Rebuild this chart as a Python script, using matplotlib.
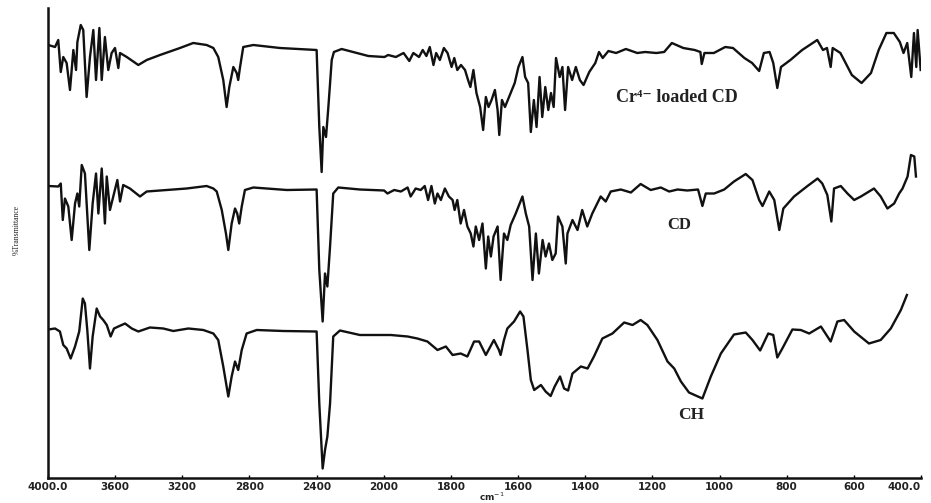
import numpy as np
import matplotlib.pyplot as plt

# FTIR spectra, wavenumber (cm-1) vs transmittance (stacked, arbitrary offset)
cr_wn = [3998, 3958, 3939, 3924, 3909, 3889, 3869, 3849, 3833, 3825, 3805, 3790, 3770, 3750,
         3730, 3714, 3694, 3680, 3661, 3641, 3621, 3601, 3581, 3571, 3531, 3462, 3412, 3333,
         3214, 3135, 3055, 3015, 2986, 2956, 2936, 2920, 2896, 2876, 2867, 2856, 2837, 2777,
         2618, 2400, 2384, 2370, 2360, 2344, 2330, 2310, 2297, 2251, 2183, 2092, 1998, 1987,
         1964, 1941, 1924, 1912, 1895, 1884, 1873, 1863, 1852, 1844, 1833, 1821, 1810, 1798,
         1790, 1781, 1770, 1758, 1749, 1742, 1733, 1724, 1713, 1704, 1696, 1688, 1679, 1669,
         1661, 1656, 1648, 1639, 1627, 1610, 1599, 1587, 1579, 1570, 1562, 1553, 1545, 1536,
         1528, 1519, 1510, 1502, 1494, 1487, 1476, 1468, 1460, 1451, 1439, 1428, 1416, 1405,
         1388, 1370, 1359, 1348, 1331, 1308, 1279, 1245, 1222, 1188, 1165, 1142, 1108, 1074,
         1057, 1053, 1045, 1017, 983, 960, 926, 903, 882, 868, 851, 840, 828, 817, 789, 754,
         709, 692, 680, 669, 663, 640, 606, 577, 549, 526, 503, 481, 463, 452, 441, 429, 421,
         414, 410, 401]
cr_t = [86.6, 86.2, 87.6, 81.2, 84.2, 83.0, 77.6, 85.6, 81.6, 87.2, 90.6, 89.6, 76.2, 84.2,
        89.6, 79.6, 90.0, 79.6, 88.2, 81.6, 85.0, 86.0, 82.0, 85.0, 84.2, 82.6, 83.6, 84.6,
        86.0, 87.0, 86.6, 86.0, 84.2, 79.6, 74.2, 78.2, 82.2, 81.0, 79.6, 82.2, 86.2, 86.6,
        86.0, 85.6, 70.2, 61.2, 70.2, 68.2, 74.2, 83.6, 85.2, 85.8, 85.2, 84.4, 84.2, 84.6,
        84.2, 85.0, 83.4, 85.0, 84.2, 85.6, 84.4, 86.2, 82.6, 85.0, 83.6, 86.0, 85.0, 82.2,
        84.0, 81.6, 82.6, 81.6, 79.6, 78.2, 81.6, 77.0, 74.2, 69.6, 76.2, 74.2, 75.6, 77.6,
        73.6, 68.6, 75.6, 74.2, 76.2, 79.0, 82.2, 84.2, 80.2, 79.0, 69.2, 75.6, 70.2, 80.2,
        72.2, 78.2, 73.6, 77.0, 74.2, 84.0, 80.2, 82.2, 73.6, 82.2, 79.6, 82.2, 79.6, 78.6,
        81.2, 83.0, 85.2, 84.0, 85.4, 85.0, 85.8, 85.0, 85.2, 85.0, 85.2, 87.0, 86.0, 85.6,
        85.2, 82.8, 85.0, 85.0, 86.2, 86.0, 84.0, 83.0, 81.4, 85.0, 85.2, 83.0, 78.0, 82.2,
        83.6, 85.6, 87.6, 85.6, 86.0, 82.2, 86.0, 85.0, 80.6, 79.0, 81.0, 85.6, 89.0, 89.0,
        87.2, 85.0, 87.0, 80.2, 89.0, 82.2, 89.6, 81.6]

cd_wn = [3998, 3939, 3924, 3912, 3899, 3879, 3859, 3839, 3825, 3814, 3799, 3780, 3754, 3734,
         3714, 3700, 3680, 3661, 3650, 3631, 3611, 3587, 3571, 3552, 3512, 3452, 3412, 3293,
         3174, 3055, 3015, 2995, 2965, 2940, 2926, 2906, 2886, 2873, 2861, 2846, 2827, 2777,
         2578, 2400, 2384, 2364, 2350, 2336, 2320, 2301, 2271, 2142, 1999, 1989, 1969, 1949,
         1929, 1920, 1905, 1890, 1878, 1868, 1858, 1848, 1840, 1830, 1818, 1806, 1795, 1789,
         1781, 1771, 1761, 1751, 1741, 1733, 1726, 1716, 1706, 1696, 1689, 1681, 1673, 1661,
         1652, 1642, 1632, 1622, 1607, 1587, 1577, 1567, 1557, 1547, 1538, 1527, 1518, 1508,
         1498, 1488, 1481, 1468, 1458, 1453, 1438, 1423, 1409, 1394, 1379, 1354, 1339, 1324,
         1294, 1264, 1235, 1205, 1175, 1150, 1125, 1096, 1064, 1051, 1041, 1016, 986, 957,
         922, 902, 882, 872, 852, 837, 822, 810, 778, 738, 708, 694, 679, 667, 659, 639, 619,
         599, 579, 540, 520, 500, 480, 465, 455, 440, 430, 420, 415]
cd_t = [58.4, 58.3, 58.9, 51.6, 55.9, 54.3, 47.6, 54.9, 56.9, 54.3, 62.6, 60.9, 45.6, 54.9,
        60.9, 52.9, 61.9, 50.9, 60.3, 53.6, 56.3, 59.6, 55.3, 58.6, 57.9, 56.3, 57.3, 57.6,
        57.9, 58.4, 57.9, 57.3, 53.6, 48.9, 45.6, 50.9, 53.9, 52.9, 50.9, 54.3, 57.6, 58.1,
        57.6, 57.7, 41.6, 31.3, 40.9, 38.3, 46.3, 56.9, 58.1, 57.7, 57.5, 56.9, 57.6, 57.3,
        58.1, 56.3, 57.9, 57.6, 58.4, 55.6, 58.4, 54.9, 56.9, 55.6, 57.9, 56.3, 55.6, 53.6,
        55.6, 50.9, 53.6, 50.3, 48.9, 46.3, 50.3, 47.6, 50.9, 41.9, 48.3, 44.3, 48.3, 50.3,
        39.6, 48.9, 47.6, 50.6, 52.9, 56.3, 52.9, 50.3, 39.6, 48.9, 40.9, 47.6, 44.3, 46.9,
        43.6, 44.9, 52.3, 50.3, 42.9, 48.9, 51.6, 49.6, 53.6, 50.3, 52.9, 56.3, 55.3, 57.3,
        57.7, 57.1, 58.8, 57.6, 58.1, 57.3, 57.7, 57.5, 57.7, 54.4, 56.9, 56.9, 57.7, 59.3,
        60.8, 59.6, 55.6, 54.4, 57.3, 55.6, 49.6, 53.9, 56.3, 58.4, 59.9, 58.9, 56.6, 51.3,
        57.9, 58.4, 56.9, 55.6, 56.3, 57.9, 56.3, 53.9, 54.9, 56.9, 57.9, 60.3, 64.6, 64.3,
        60.3]

ch_wn = [3998, 3958, 3929, 3909, 3889, 3865, 3839, 3814, 3793, 3780, 3766, 3750, 3734, 3710,
         3690, 3671, 3650, 3627, 3607, 3581, 3541, 3501, 3462, 3393, 3313, 3254, 3164, 3075,
         3015, 2986, 2956, 2926, 2906, 2886, 2867, 2846, 2817, 2757, 2599, 2400, 2384, 2364,
         2350, 2336, 2320, 2301, 2261, 2142, 1979, 1929, 1900, 1870, 1840, 1815, 1795, 1771,
         1751, 1731, 1716, 1696, 1672, 1657, 1652, 1642, 1632, 1612, 1594, 1584, 1572, 1562,
         1552, 1532, 1518, 1503, 1491, 1475, 1463, 1451, 1438, 1413, 1393, 1374, 1349, 1319,
         1284, 1259, 1235, 1215, 1185, 1155, 1135, 1115, 1091, 1051, 1026, 996, 957, 922, 902,
         879, 855, 840, 828, 813, 783, 758, 733, 698, 669, 649, 629, 599, 555, 520, 490, 460,
         442]
ch_t = [29.7, 29.9, 29.3, 26.6, 25.9, 23.9, 26.3, 29.3, 35.9, 34.9, 29.6, 21.9, 28.3, 33.9,
        32.3, 31.6, 30.6, 28.3, 29.9, 30.3, 30.9, 29.9, 29.3, 30.1, 29.9, 29.4, 29.9, 29.6,
        28.9, 27.6, 22.3, 16.3, 20.3, 23.3, 21.6, 25.6, 28.9, 29.6, 29.4, 29.3, 14.9, 1.9,
        5.6, 8.3, 14.9, 28.3, 29.5, 28.6, 28.6, 28.3, 27.9, 27.3, 25.6, 26.3, 24.6, 24.9,
        24.3, 27.3, 27.3, 24.6, 27.6, 25.6, 24.6, 27.6, 29.9, 31.3, 33.3, 32.3, 25.6, 19.6,
        17.6, 18.6, 17.3, 16.4, 18.3, 20.3, 17.9, 17.5, 20.9, 22.3, 21.9, 24.3, 27.9, 28.9,
        31.1, 30.6, 31.6, 30.6, 27.6, 23.3, 21.9, 19.3, 17.1, 15.9, 20.3, 24.9, 28.7, 29.1,
        27.6, 25.5, 28.9, 28.6, 24.1, 25.9, 29.7, 29.6, 28.9, 30.3, 27.3, 31.3, 31.6, 29.3,
        26.9, 27.6, 29.9, 33.6, 36.6]

tick_wn = [4000, 3600, 3200, 2800, 2400, 2000, 1800, 1600, 1400, 1200, 1000, 800, 600, 400]
tick_text = ["4000.0", "3600", "3200", "2800", "2400", "2000", "1800", "1600", "1400",
             "1200", "1000", "800", "600", "400.0"]


# scale doubles below 2000 cm-1, as on the instrument printout
def fwd(x):
    x = np.asarray(x, dtype=float)
    return np.where(x >= 2000, x, 2 * x - 2000)


def inv(y):
    y = np.asarray(y, dtype=float)
    return np.where(y >= 2000, y, (y + 2000) / 2)


fig = plt.figure(figsize=(9.31, 5.03), dpi=100)
ax = fig.add_axes([48 / 931, 25 / 503, 873 / 931, 470 / 503])
ax.set_xscale('function', functions=(fwd, inv))

for wn, t in [(cr_wn, cr_t), (cd_wn, cd_t), (ch_wn, ch_t)]:
    ax.plot(wn, t, color='#111111', lw=1.7, solid_joinstyle='round')

ax.set_xlim(4000, 400)
ax.set_ylim(0, 94)
ax.set_xticks(tick_wn)
ax.set_xticklabels(tick_text, fontsize=7.5, fontweight='bold', color='#222222')
ax.tick_params(axis='x', direction='in', length=2, width=1, pad=3)
# end labels sit inside the axis span
labels = ax.get_xticklabels()
labels[0].set_horizontalalignment('center')
labels[-1].set_horizontalalignment('right')
ax.set_yticks([])
for side in ['top', 'right']:
    ax.spines[side].set_visible(False)
for side in ['left', 'bottom']:
    ax.spines[side].set_linewidth(1.8)
    ax.spines[side].set_color('#111111')

serif = ['Liberation Serif', 'DejaVu Serif']
ax.text(1309, 76, "Cr⁴⁻ loaded CD", family=serif, fontweight='bold', fontsize=13,
        va='center', ha='left', color='#222222')
ax.text(1121, 50.6, "CD", family=serif, fontweight='bold', fontsize=12,
        va='center', ha='center', color='#222222')
ax.text(1083, 12.6, "CH", family=serif, fontweight='bold', fontsize=12.5,
        va='center', ha='center', color='#222222')

fig.text(17 / 931, 1 - 230 / 503, "%Transmittance", rotation=90, fontsize=5.5,
         family=serif, ha='center', va='center', color='#222222')
fig.text(492 / 931, 6 / 503, "cm$^{-1}$", fontsize=6.5, fontweight='bold',
         ha='center', va='center', color='#222222')

fig.savefig("out.png", dpi=100)
